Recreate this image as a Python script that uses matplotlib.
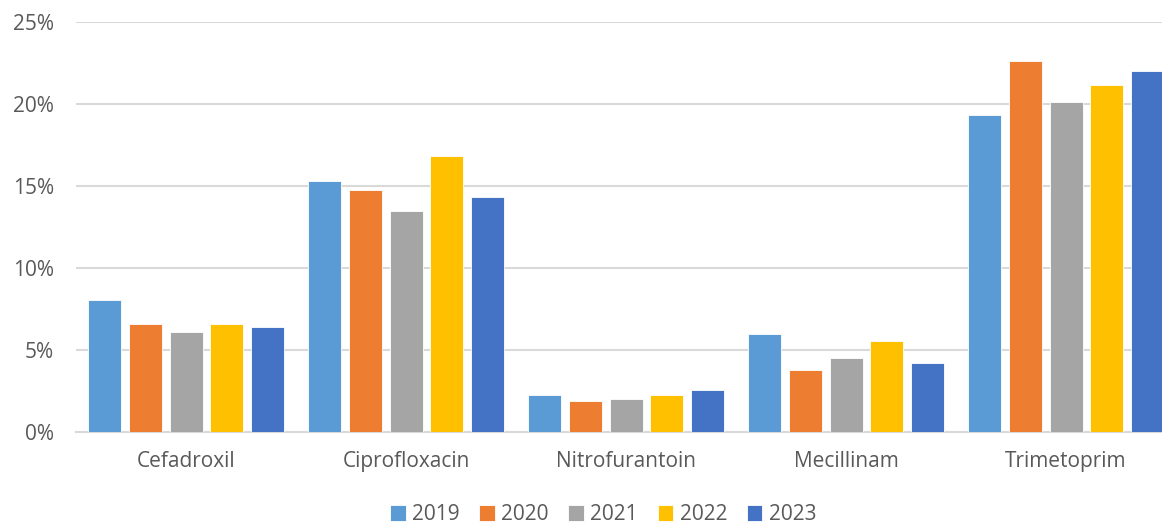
import matplotlib.pyplot as plt
import numpy as np

plt.rcParams['font.family'] = ['Open Sans', 'DejaVu Sans']

drugs = ['Cefadroxil', 'Ciprofloxacin', 'Nitrofurantoin', 'Mecillinam', 'Trimetoprim']
years = ['2019', '2020', '2021', '2022', '2023']
colors = ['#5B9BD5', '#ED7D31', '#A5A5A5', '#FFC000', '#4472C4']

# share per year, percent
v2019 = [8.05, 15.3, 2.25, 6.0, 19.35]
v2020 = [6.6, 14.75, 1.9, 3.8, 22.6]
v2021 = [6.1, 13.5, 2.0, 4.5, 20.15]
v2022 = [6.6, 16.8, 2.25, 5.55, 21.15]
v2023 = [6.4, 14.3, 2.55, 4.2, 22.0]
series = [v2019, v2020, v2021, v2022, v2023]

fig = plt.figure(figsize=(11.62, 5.28), dpi=100)
ax = fig.add_axes([76 / 1162, 96 / 528, 1100 / 1162, 410 / 528])

x = np.arange(len(drugs))
step = 0.186
width = 0.15
for i, (yr, vals, c) in enumerate(zip(years, series, colors)):
    ax.bar(x + (i - 2) * step, vals, width, color=c, label=yr,
           edgecolor='white', linewidth=0.6, zorder=3)

ax.set_xlim(-0.5, 4.5)
ax.set_ylim(0, 25)
ax.set_yticks([0, 5, 10, 15, 20, 25])
ax.set_yticklabels([f'{t}%' for t in [0, 5, 10, 15, 20, 25]])
ax.set_xticks(x)
ax.set_xticklabels(drugs)
ax.grid(axis='y', color='#d9d9d9', linewidth=1.5, zorder=0)
for s in ['top', 'right', 'left']:
    ax.spines[s].set_visible(False)
ax.spines['bottom'].set_color('#d9d9d9')
ax.spines['bottom'].set_linewidth(1.5)
ax.tick_params(axis='y', length=0, pad=16, labelsize=15, labelcolor='#595959')
ax.tick_params(axis='x', length=0, pad=14, labelsize=15, labelcolor='#595959')

fig.legend(loc='center', bbox_to_anchor=(0.519, 0.025), ncol=5, frameon=False,
           fontsize=15, labelcolor='#595959', handlelength=0.75, handleheight=0.75,
           handletextpad=0.3, columnspacing=0.95)

fig.savefig('out.png', dpi=100)
